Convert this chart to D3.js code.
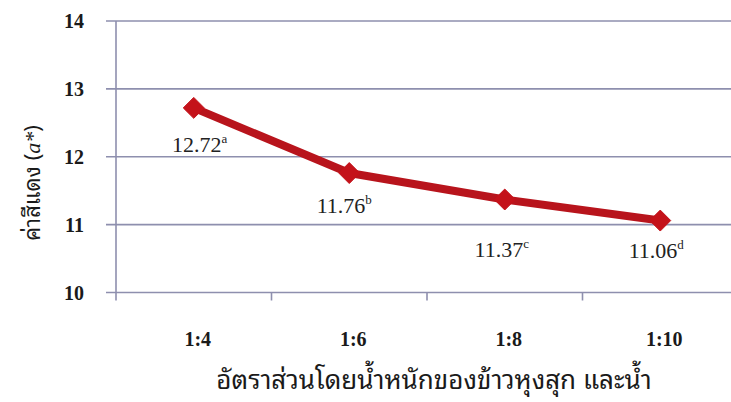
<!DOCTYPE html>
<html>
<head>
<meta charset="utf-8">
<script src="https://cdn.jsdelivr.net/npm/d3@7"></script>
<style>
  html, body { margin: 0; padding: 0; background: #ffffff; }
  svg { display: block; }
  .thai { font-family: "Noto Sans Thai Looped", "Noto Serif Thai", "Norasi", "Garuda", "Loma", "Tlwg Typo", "Noto Sans Thai", "Sarabun", sans-serif; }
</style>
</head>
<body>
<svg id="chart" width="731" height="402"></svg>
<script>
// ---- data ----
const categories = ["1:4", "1:6", "1:8", "1:10"];
const values = [12.72, 11.76, 11.37, 11.06];
const letters = ["a", "b", "c", "d"];
const yTicks = [10, 11, 12, 13, 14];
const yTitleMain = "ค่าสีแดง (";
const yTitleItalic = "a*";
const xTitle = "อัตราส่วนโดยน้ำหนักของข้าวหุงสุก และน้ำ";

// ---- layout (not data) ----
const labelDx = [6, -5, -3, -4];
const labelDy = [44, 40, 57, 37];

const svg = d3.select("#chart");
const plotLeft = 116, plotRight = 738, plotTop = 21, plotBottom = 292.5;

const x = d3.scaleBand().domain(categories).range([plotLeft, plotRight]);
const y = d3.scaleLinear().domain([10, 14]).range([plotBottom, plotTop]);

const gridColor = "#8e8fae";

// gridlines
svg.append("g").selectAll("line").data(yTicks).join("line")
  .attr("x1", 106).attr("x2", 731)
  .attr("y1", d => y(d)).attr("y2", d => y(d))
  .attr("stroke", gridColor).attr("stroke-width", 1.6);

// y axis line
svg.append("line")
  .attr("x1", plotLeft).attr("x2", plotLeft)
  .attr("y1", plotTop).attr("y2", plotBottom + 8)
  .attr("stroke", gridColor).attr("stroke-width", 1.6);

// x category ticks (boundaries)
svg.append("g").selectAll("line").data(categories.slice(1)).join("line")
  .attr("x1", d => x(d)).attr("x2", d => x(d))
  .attr("y1", plotBottom).attr("y2", plotBottom + 8)
  .attr("stroke", gridColor).attr("stroke-width", 1.6);

// y tick labels
svg.append("g").selectAll("text").data(yTicks).join("text")
  .attr("x", 84).attr("y", d => y(d))
  .attr("dy", "0.35em")
  .attr("text-anchor", "end")
  .attr("font-family", "'Liberation Serif', 'Times New Roman', serif")
  .attr("font-weight", "bold").attr("font-size", 20)
  .attr("fill", "#1a1a1a")
  .text(d => d);

// x tick labels
svg.append("g").selectAll("text").data(categories).join("text")
  .attr("x", d => x(d) + x.bandwidth() / 2 + 4)
  .attr("y", 346)
  .attr("text-anchor", "middle")
  .attr("font-family", "'Liberation Serif', 'Times New Roman', serif")
  .attr("font-weight", "bold").attr("font-size", 20)
  .attr("fill", "#1a1a1a")
  .text(d => d);

// line
const pts = categories.map((c, i) => [x(c) + x.bandwidth() / 2, y(values[i])]);
svg.append("path")
  .attr("d", d3.line()(pts))
  .attr("fill", "none")
  .attr("stroke", "#b8141c")
  .attr("stroke-width", 8)
  .attr("stroke-linejoin", "round");

// markers
svg.append("g").selectAll("path").data(pts).join("path")
  .attr("transform", d => `translate(${d[0]},${d[1]})`)
  .attr("d", d3.symbol().type(d3.symbolDiamond2).size(280)())
  .attr("fill", "#c4121a")
  .attr("stroke", "#c4121a")
  .attr("stroke-width", 1)
  .attr("stroke-linejoin", "round");

// data labels
const lbl = svg.append("g").selectAll("text").data(values).join("text")
  .attr("x", (d, i) => pts[i][0] + labelDx[i])
  .attr("y", (d, i) => pts[i][1] + labelDy[i])
  .attr("text-anchor", "middle")
  .attr("font-family", "'Liberation Serif', 'Times New Roman', serif")
  .attr("font-size", 22)
  .attr("fill", "#222");
lbl.append("tspan").text(d => d.toFixed(2));
lbl.append("tspan").attr("font-size", 13).attr("dy", -9).text((d, i) => letters[i]);

// y title
const yt = svg.append("text")
  .attr("class", "thai")
  .attr("transform", "translate(40,183) rotate(-90)")
  .attr("text-anchor", "middle")
  .attr("font-size", 22)
  .attr("fill", "#1a1a1a");
yt.append("tspan").text(yTitleMain);
yt.append("tspan").attr("font-style", "italic").attr("font-family", "'Liberation Serif', serif").text(yTitleItalic);
yt.append("tspan").text(")");

// x title
svg.append("text")
  .attr("class", "thai")
  .attr("x", 434).attr("y", 389)
  .attr("text-anchor", "middle")
  .attr("font-size", 26)
  .attr("fill", "#1a1a1a")
  .text(xTitle);
</script>
</body>
</html>
